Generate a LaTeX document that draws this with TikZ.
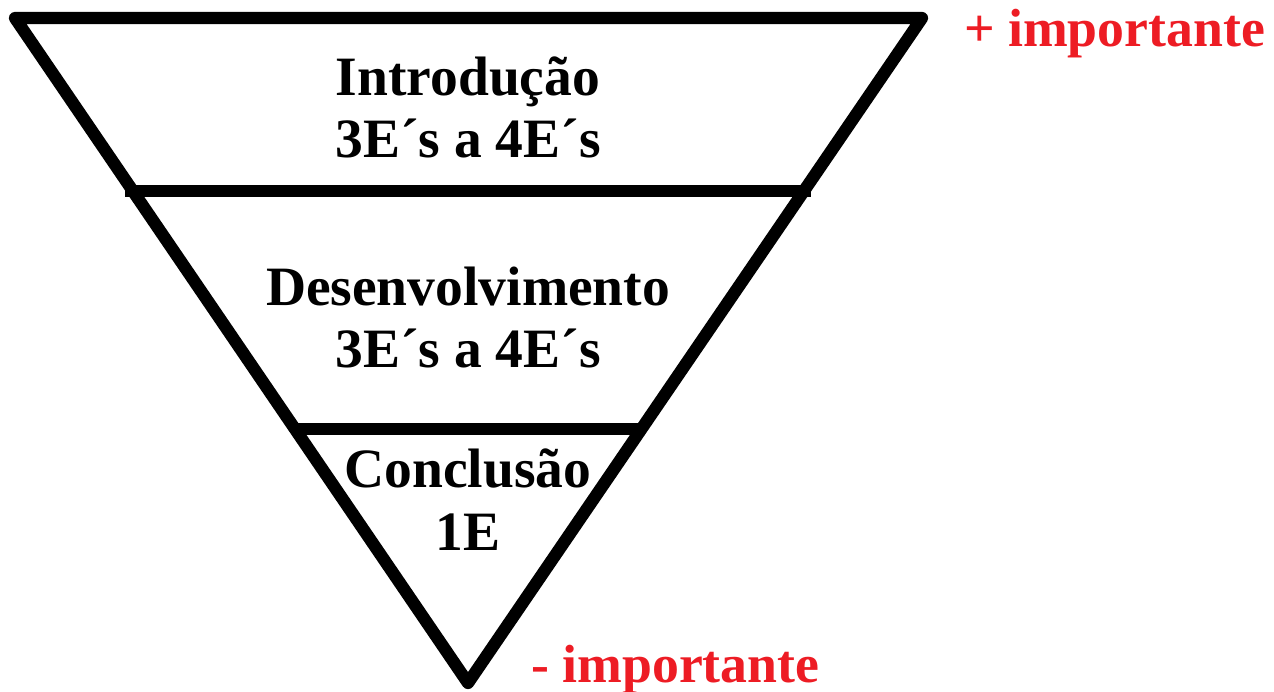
\documentclass[tikz,border=0pt]{standalone}
\usepackage{fontspec}
\setmainfont{Liberation Serif}
\definecolor{importred}{RGB}{237,28,36}
\begin{document}
\begin{tikzpicture}[x=0.02cm, y=-0.02cm, line width=7pt, line join=round, every node/.style={font=\fontsize{31.6}{35.7}\selectfont\bfseries, align=center, inner sep=0pt}]
    \useasboundingbox (0,0) rectangle (1274,692);
    \coordinate (TL) at (15,18);
    \coordinate (TR) at (922,18);
    \coordinate (apex) at (468,683);
    \coordinate (d1l) at (125,191);
    \coordinate (d1r) at (811,191);
    \coordinate (d2l) at (297,429);
    \coordinate (d2r) at (643,429);

    \node [anchor=base] (intro) at (468,158) {Introdução\\3E´s a 4E´s};
    \node [anchor=base] (desenv) at (468,368) {Desenvolvimento\\3E´s a 4E´s};
    \node [anchor=base] (concl) at (468,550) {Conclusão\\1E};
    \node [importred, font=\fontsize{30.6}{35}\selectfont\bfseries, anchor=base west] (mais) at (958,47) {+ importante};
    \node [importred, font=\fontsize{30.6}{35}\selectfont\bfseries, anchor=base west] (menos) at (525,682) {- importante};

    \draw (TL) -- (TR) -- (apex) -- cycle;
    \draw (d1l) -- (d1r);
    \draw (d2l) -- (d2r);
\end{tikzpicture}
\end{document}
